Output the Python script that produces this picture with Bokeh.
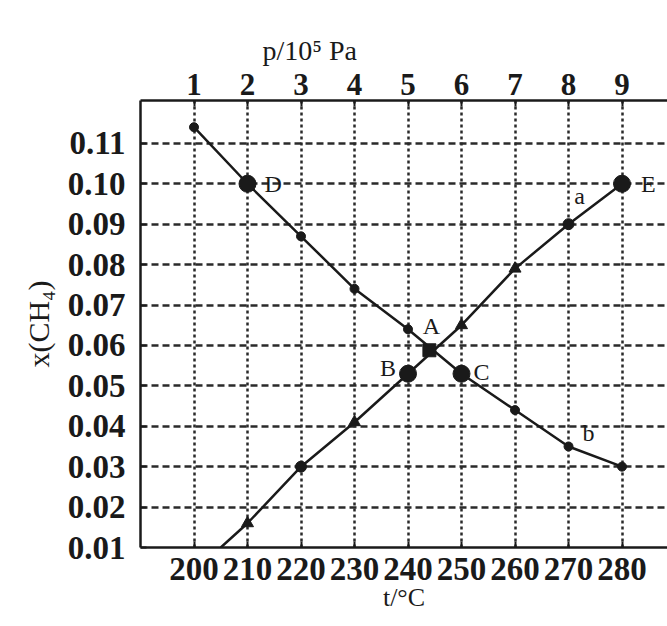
from bokeh.plotting import figure
from bokeh.models import (LinearAxis, Range1d, FixedTicker, PrintfTickFormatter)
from bokeh.core.properties import value
from bokeh.embed import file_html
from bokeh.resources import INLINE

# ---- data ----
t_ticks = [200, 210, 220, 230, 240, 250, 260, 270, 280]
p_ticks = [1, 2, 3, 4, 5, 6, 7, 8, 9]
y_ticks = [0.01, 0.02, 0.03, 0.04, 0.05, 0.06, 0.07, 0.08, 0.09, 0.10, 0.11]

# curve b (decreasing)
b_t = [200, 210, 220, 230, 240, 250, 260, 270, 280]
b_x = [0.114, 0.100, 0.087, 0.074, 0.064, 0.053, 0.044, 0.035, 0.030]

# curve a (increasing); line enters the frame at t~205
a_line_t = [205, 210, 220, 230, 240, 250, 260, 270, 280]
a_line_x = [0.010, 0.016, 0.030, 0.041, 0.053, 0.065, 0.079, 0.090, 0.100]
a_tri_t = [210, 230, 250, 260]
a_tri_x = [0.016, 0.041, 0.065, 0.079]
a_dot_t = [220, 270]
a_dot_x = [0.030, 0.090]

# labelled points
pt_names = ["D", "B", "C", "E"]
pt_t = [210, 240, 250, 280]
pt_x = [0.100, 0.053, 0.053, 0.100]
A_t = [244]
A_x = [0.0588]

FONT = "Liberation Serif"
INK = "#1a1a1a"

p = figure(width=667, height=626, output_backend="svg", toolbar_location=None,
           x_range=Range1d(190, 288.5), y_range=Range1d(0.01, 0.1206),
           x_axis_location=None, y_axis_location=None,
           title="p/10\u2075 Pa")
p.min_border_left = 140
p.min_border_top = 100
p.min_border_right = 0
p.min_border_bottom = 79
p.outline_line_color = None
p.background_fill_color = "white"
p.border_fill_color = "white"

p.title.text_font = FONT
p.title.text_font_size = "28px"
p.title.text_font_style = "normal"
p.title.text_color = INK
p.title.align = "left"
p.title.offset = 122
p.title.standoff = 9

p.extra_x_ranges = {"p": Range1d(0, 9.85)}

def style_axis(ax, size):
    ax.axis_line_color = INK
    ax.axis_line_width = 2.5
    ax.major_tick_in = 6
    ax.major_tick_out = 0
    ax.minor_tick_in = 0
    ax.minor_tick_out = 0
    ax.major_tick_line_color = INK
    ax.major_tick_line_width = 2
    ax.major_label_text_font = FONT
    ax.major_label_text_font_size = size
    ax.major_label_text_font_style = "bold"
    ax.major_label_text_color = INK
    ax.axis_label_text_font = FONT
    ax.axis_label_text_font_style = "normal"
    ax.axis_label_text_color = INK

xb = LinearAxis(ticker=FixedTicker(ticks=t_ticks), axis_label="t/\u00b0C")
style_axis(xb, "33px")
xb.major_label_standoff = 10
xb.axis_label_text_font_size = "26px"
xb.axis_label_standoff = 0
p.add_layout(xb, "below")

yl = LinearAxis(ticker=FixedTicker(ticks=y_ticks), axis_label="x(CH\u2084)",
                formatter=PrintfTickFormatter(format="%.2f"))
style_axis(yl, "33px")
yl.major_label_standoff = 15
yl.axis_label_text_font_size = "30px"
yl.axis_label_standoff = 10
p.add_layout(yl, "left")

xt = LinearAxis(x_range_name="p", ticker=FixedTicker(ticks=p_ticks))
style_axis(xt, "31px")
xt.major_label_standoff = 6
p.add_layout(xt, "above")

p.xgrid.ticker = FixedTicker(ticks=t_ticks)
p.ygrid.ticker = FixedTicker(ticks=y_ticks[1:])
p.xgrid.grid_line_color = "#2a2a2a"
p.xgrid.grid_line_width = 2.5
p.xgrid.grid_line_dash = "3 3"
p.ygrid.grid_line_color = "#2a2a2a"
p.ygrid.grid_line_width = 2.5
p.ygrid.grid_line_dash = "7 4"

# curves
p.line(b_t, b_x, line_color=INK, line_width=2.5)
p.line(a_line_t, a_line_x, line_color=INK, line_width=2.5)

p.scatter(b_t, b_x, marker="circle", size=9, color=INK)
p.scatter(a_tri_t, a_tri_x, marker="triangle", size=12, color=INK)
p.scatter(a_dot_t, a_dot_x, marker="circle", size=11, color=INK)
p.scatter(pt_t, pt_x, marker="circle", size=17, color=INK)
p.scatter(A_t, A_x, marker="square", size=13, color=INK)

def lab(txt, x, y, dx, dy, align, base, size="24px"):
    p.text([x], [y], text=[txt], x_offset=dx, y_offset=dy, text_align=align,
           text_baseline=base, text_font=value(FONT), text_font_size=size,
           text_color=INK)

lab("D", pt_t[0], pt_x[0], 17, 0, "left", "middle")
lab("B", pt_t[1], pt_x[1], -12, -6, "right", "middle")
lab("C", pt_t[2], pt_x[2], 12, -2, "left", "middle")
lab("E", pt_t[3], pt_x[3], 19, 0, "left", "middle")
lab("A", A_t[0], A_x[0], 2, -11, "center", "bottom")
lab("a", a_dot_t[1], a_dot_x[1], 11, -28, "center", "middle")
lab("b", b_t[7], b_x[7], 20, -13, "center", "middle")

open("out.html", "w").write(file_html(p, INLINE))
